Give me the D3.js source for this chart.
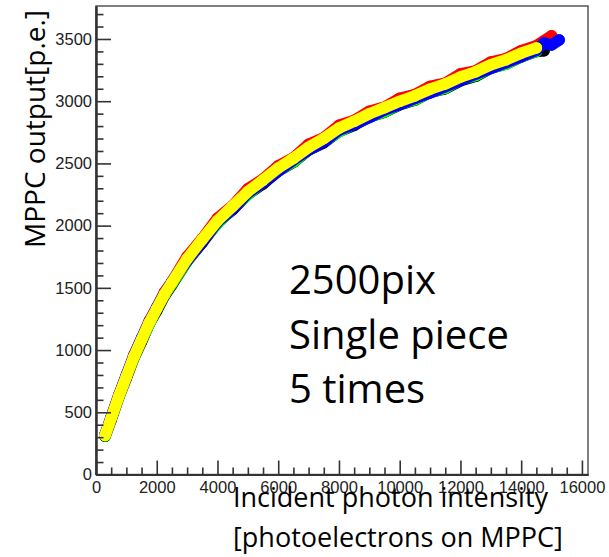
<!DOCTYPE html>
<html>
<head>
<meta charset="utf-8">
<script src="https://cdn.jsdelivr.net/npm/d3@7"></script>
<style>
  html, body { margin: 0; padding: 0; background: #fff; }
  svg { display: block; }
</style>
</head>
<body>
<svg id="chart" width="609" height="557"></svg>
<script>
// ---- data ----
const intensity = [300, 500, 750, 1000, 1250, 1500, 1750, 2000, 2250, 2500,
  3000, 3500, 4000, 4500, 5000, 5500, 6000, 6500, 7000, 7500, 8000, 8500,
  9000, 9500, 10000, 10500, 11000, 11500, 12000, 12500, 13000, 13500, 14000,
  14500, 14750, 15000, 15250];

const run1Black = [307, 442, 622, 776, 938, 1069, 1210, 1317, 1435, 1525,
  1715, 1864, 2024, 2128, 2252, 2336, 2439, 2509, 2608, 2666, 2758, 2806,
  2875, 2912, 2971, 3009, 3071, 3101, 3164, 3200, 3265, 3299, 3356,
  3400, 3405, null, null];
const run2Red = [319, 458, 638, 792, 960, 1089, 1232, 1341, 1463, 1549,
  1751, 1896, 2060, 2160, 2296, 2374, 2481, 2545, 2654, 2706, 2806, 2846,
  2919, 2952, 3023, 3053, 3119, 3145, 3220, 3244, 3315, 3343, 3406,
  3446, 3485, 3525, null];
const run3Green = [311, 454, 622, 792, 940, 1081, 1208, 1333, 1443, 1535,
  1713, 1878, 2016, 2140, 2248, 2352, 2443, 2511, 2612, 2676, 2754, 2818,
  2873, 2914, 2977, 3011, 3073, 3105, 3172, 3206, 3267, 3297, 3362,
  3400, null, null, null];
const run4Blue = [321, 460, 632, 798, 954, 1095, 1222, 1341, 1449, 1549,
  1719, 1872, 2030, 2134, 2262, 2346, 2437, 2527, 2608, 2672, 2768, 2814,
  2869, 2930, 2973, 3023, 3067, 3117, 3166, 3218, 3263, 3309, 3360,
  3408, 3468, 3452, 3492];
const run5Yellow = [315, 452, 628, 788, 948, 1083, 1218, 1333, 1447, 1543,
  1733, 1890, 2040, 2156, 2274, 2366, 2463, 2541, 2630, 2700, 2784, 2838,
  2899, 2948, 2999, 3043, 3097, 3139, 3194, 3236, 3293, 3333, 3386,
  3428, null, null, null];

const seriesNames = ["run1", "run3", "run2", "run4", "run5"];
const seriesValues = [run1Black, run3Green, run2Red, run4Blue, run5Yellow];
const seriesColors = ["#000000", "#00ff00", "#ff0000", "#0000ff", "#ffff00"];

const xTickValues = [0, 2000, 4000, 6000, 8000, 10000, 12000, 14000, 16000];
const yTickValues = [0, 500, 1000, 1500, 2000, 2500, 3000, 3500];

const xTitle = ["Incident photon intensity", "[photoelectrons on MPPC]"];
const yTitle = "MPPC output[p.e.]";
const noteLines = ["2500pix", "Single piece", "5 times"];

// ---- layout ----
const svg = d3.select("#chart");
const plotL = 96, plotR = 588, plotT = 6, plotB = 474.5;

const x = d3.scaleLinear().domain([0, 16200]).range([plotL, plotR]);
const y = d3.scaleLinear().domain([0, 3765]).range([plotB, plotT]);

// frame
svg.append("rect")
  .attr("x", plotL).attr("y", plotT)
  .attr("width", plotR - plotL).attr("height", plotB - plotT)
  .attr("fill", "none").attr("stroke", "#555").attr("stroke-width", 1.5);

// series
const line = d3.line()
  .defined(d => d[1] != null)
  .x(d => x(d[0])).y(d => y(d[1]));

seriesValues.forEach((vals, i) => {
  const pts = intensity.map((xv, k) => [xv, vals[k]]);
  const g = svg.append("g").attr("class", "series " + seriesNames[i]);
  g.append("path")
    .datum(pts)
    .attr("d", line)
    .attr("fill", "none")
    .attr("stroke", seriesColors[i])
    .attr("stroke-width", 11.5)
    .attr("stroke-linejoin", "round")
    .attr("stroke-linecap", "round");
  g.selectAll("circle")
    .data(pts.filter(d => d[1] != null))
    .join("circle")
    .attr("cx", d => x(d[0]))
    .attr("cy", d => y(d[1]))
    .attr("r", 5.75)
    .attr("fill", seriesColors[i]);
});

// axes
const tickFont = "'Liberation Sans', Arial, Helvetica, sans-serif";

const xAxis = d3.axisBottom(x)
  .tickValues(xTickValues)
  .tickFormat(d3.format("d"))
  .tickSizeInner(-14).tickSizeOuter(0).tickPadding(20);
const gx = svg.append("g").attr("transform", `translate(0,${plotB})`).call(xAxis);

const xMinor = d3.axisBottom(x)
  .tickValues(d3.range(0, 16001, 500).filter(v => v % 2000 !== 0))
  .tickFormat("")
  .tickSizeInner(-7).tickSizeOuter(0);
const gxm = svg.append("g").attr("transform", `translate(0,${plotB})`).call(xMinor);

const yAxis = d3.axisLeft(y)
  .tickValues(yTickValues)
  .tickFormat(d3.format("d"))
  .tickSizeInner(-15).tickSizeOuter(0).tickPadding(19);
const gy = svg.append("g").attr("transform", `translate(${plotL},0)`).call(yAxis);

const yMinor = d3.axisLeft(y)
  .tickValues(d3.range(0, 3701, 100).filter(v => v % 500 !== 0))
  .tickFormat("")
  .tickSizeInner(-7.5).tickSizeOuter(0);
const gym = svg.append("g").attr("transform", `translate(${plotL},0)`).call(yMinor);

[gx, gxm, gy, gym].forEach(g => {
  g.select(".domain").attr("stroke", "#333").attr("stroke-width", 2);
  g.selectAll(".tick line").attr("stroke", "#333").attr("stroke-width", 1.6);
  g.selectAll(".tick text")
    .attr("fill", "#222")
    .style("font-family", tickFont)
    .style("font-size", "16.5px");
});
gy.selectAll(".tick text").attr("x", -4);
gx.selectAll(".tick text").attr("y", 7).attr("dy", "0.71em");

// axis titles
const titleFont = "'Open Sans', 'DejaVu Sans', sans-serif";
svg.append("text")
  .attr("transform", "translate(45,129) rotate(-90)")
  .attr("text-anchor", "middle")
  .style("font-family", titleFont)
  .style("font-size", "28px")
  .attr("fill", "#000")
  .text(yTitle);

svg.selectAll("text.xtitle")
  .data(xTitle)
  .join("text")
  .attr("class", "xtitle")
  .attr("x", 233)
  .attr("y", (d, i) => 507 + i * 40)
  .style("font-family", titleFont)
  .style("font-size", "27px")
  .attr("fill", "#000")
  .text(d => d);

// annotation
svg.selectAll("text.note")
  .data(noteLines)
  .join("text")
  .attr("class", "note")
  .attr("x", 289)
  .attr("y", (d, i) => 294 + i * 54.5)
  .style("font-family", titleFont)
  .style("font-size", "40px")
  .attr("fill", "#000")
  .text(d => d);
</script>
</body>
</html>
